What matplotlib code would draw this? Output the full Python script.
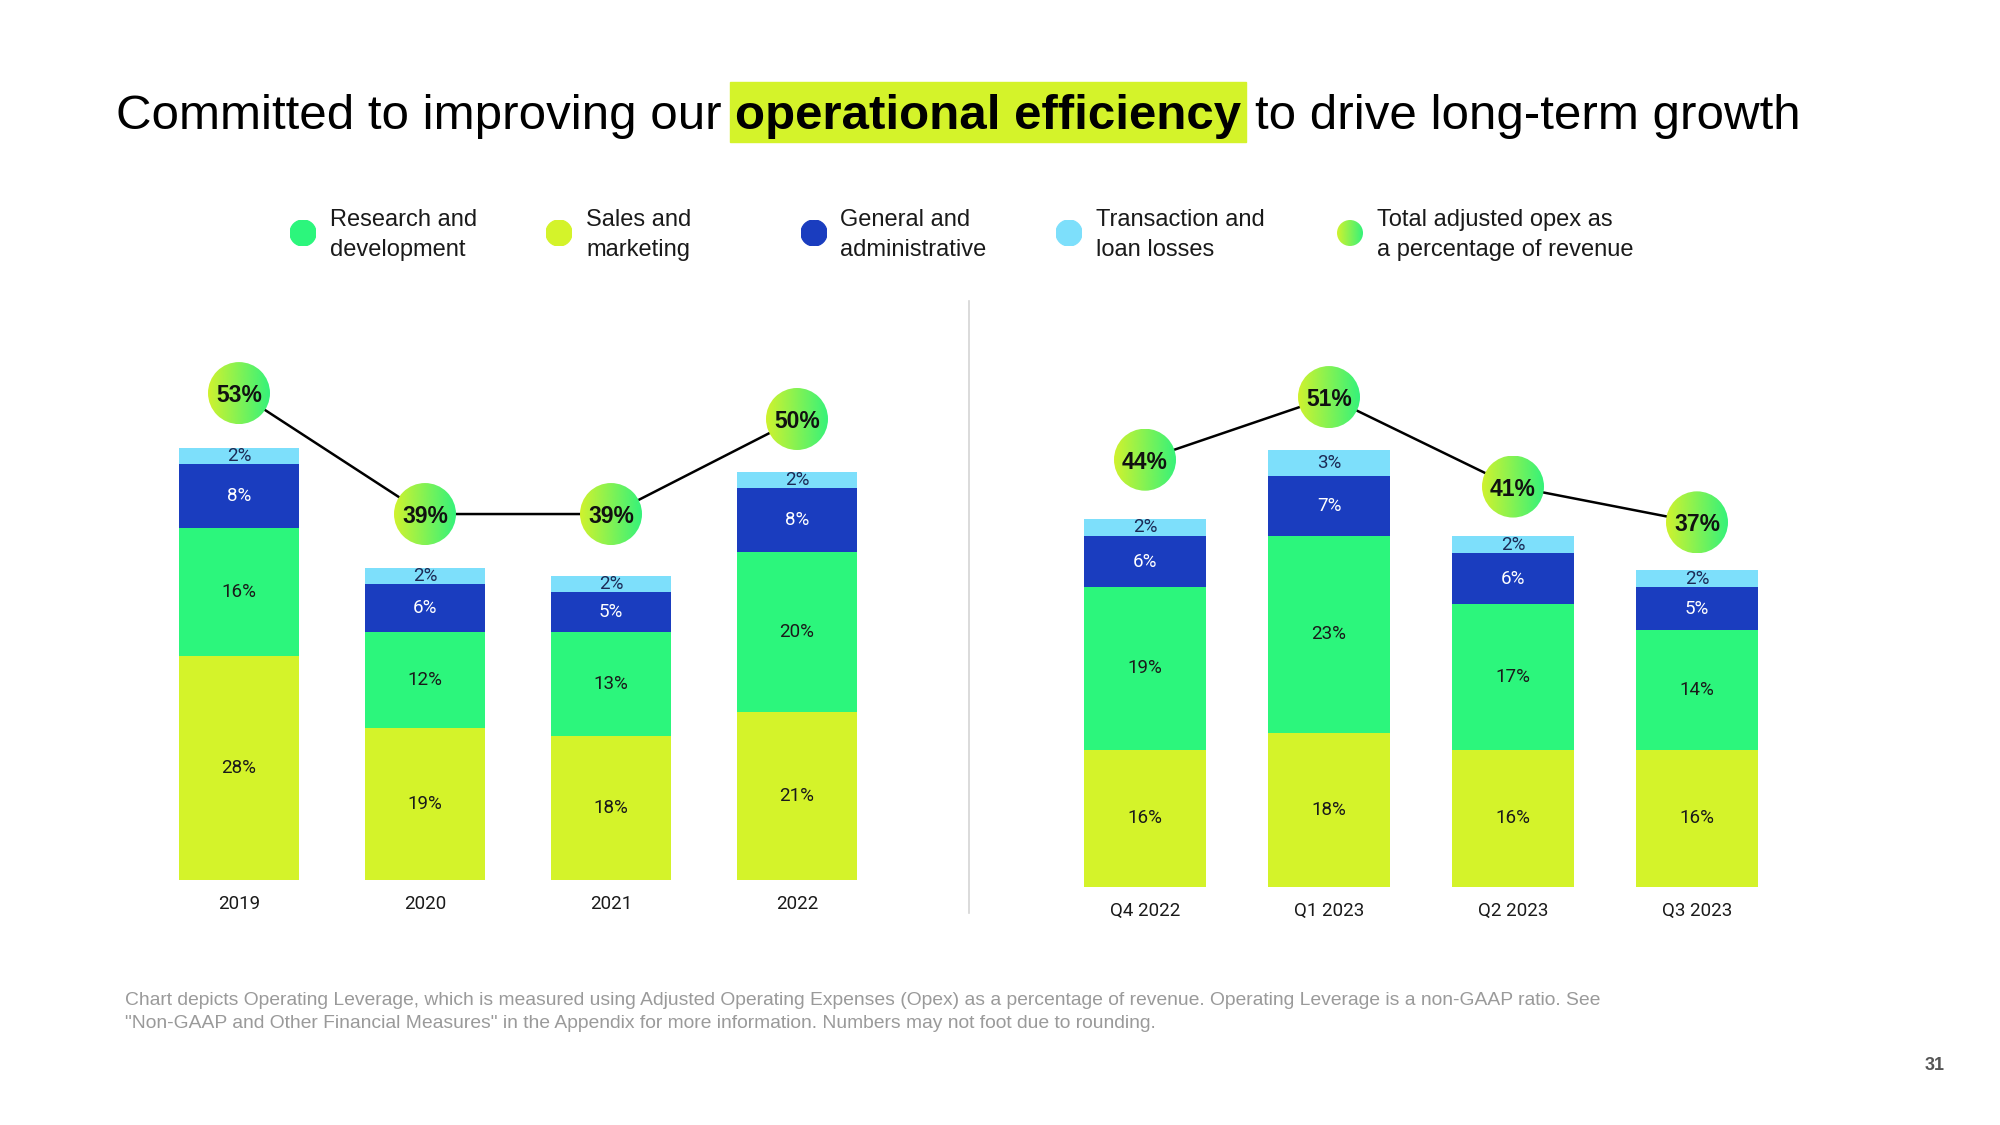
import numpy as np
import matplotlib
matplotlib.use('Agg')
import matplotlib.pyplot as plt
from matplotlib.patches import Circle, Rectangle
from matplotlib.colors import LinearSegmentedColormap

#   figure size in pixels
W, H = 2000, 1125
DPI = 100

#   data: annual
years = ['2019', '2020', '2021', '2022']
yr_sales = [28, 19, 18, 21]
yr_rd = [16, 12, 13, 20]
yr_ga = [8, 6, 5, 8]
yr_tll = [2, 2, 2, 2]
yr_total = [53, 39, 39, 50]

#   data: quarterly
quarters = ['Q4 2022', 'Q1 2023', 'Q2 2023', 'Q3 2023']
q_sales = [16, 18, 16, 16]
q_rd = [19, 23, 17, 14]
q_ga = [6, 7, 6, 5]
q_tll = [2, 3, 2, 2]
q_total = [44, 51, 41, 37]

legend_labels = ['Research and\ndevelopment', 'Sales and\nmarketing',
                 'General and\nadministrative', 'Transaction and\nloan losses',
                 'Total adjusted opex as\na percentage of revenue']

C_SALES = '#d4f32a'
C_RD = '#2cf67c'
C_GA = '#1a3dbf'
C_TLL = '#7ddffb'
grad = LinearSegmentedColormap.from_list('bub', ['#d0f22e', '#35f27a'])

SANS = ['Liberation Sans', 'DejaVu Sans']
ROBO = ['Roboto', 'DejaVu Sans']

fig = plt.figure(figsize=(W / DPI, H / DPI), dpi=DPI)
fig.patch.set_facecolor('white')
rend = fig.canvas.get_renderer()


def bubble(cx, cy, d, label=None, color=None, fs=16.5):
    """circle centred at display pixel (cx, cy), gradient fill unless color given"""
    bax = fig.add_axes([(cx - d / 2) / W, (cy - d / 2) / H, d / W, d / H])
    bax.set_axis_off()
    bax.set_xlim(0, 1)
    bax.set_ylim(0, 1)
    if color is None:
        im = bax.imshow(np.linspace(0, 1, 128)[None, :], cmap=grad,
                        extent=(0, 1, 0, 1), aspect='auto', interpolation='bilinear')
        im.set_clip_path(Circle((0.5, 0.5), 0.5, transform=bax.transAxes))
    else:
        bax.add_patch(Circle((0.5, 0.5), 0.5, color=color, transform=bax.transAxes))
    if label:
        bax.text(0.5, 0.5, label, ha='center', va='center_baseline', fontsize=fs,
                 fontweight='bold', family=SANS, color='#111111', transform=bax.transAxes)


def panel(left, base, spacing, cats, sales, rd, ga, tll, total,
          bar_ppp, bub_off, bub_ppp, width):
    top = 300
    hgt = base - top
    ax = fig.add_axes([left / W, 1 - base / H, 4 * spacing / W, hgt / H])
    x = np.arange(len(cats))
    bottom = np.zeros(len(cats))
    for vals, col, tcol in [(sales, C_SALES, '#1a1a1a'), (rd, C_RD, '#1a1a1a'),
                            (ga, C_GA, 'white'), (tll, C_TLL, '#1c2a55')]:
        ax.bar(x, vals, width, bottom=bottom, color=col, linewidth=0)
        for i, v in enumerate(vals):
            ax.text(x[i], bottom[i] + v / 2, '%d%%' % v, ha='center', va='center',
                    fontsize=13.5, family=ROBO, color=tcol)
        bottom += np.array(vals)
    ax.set_xlim(-0.5, len(cats) - 0.5)
    ax.set_ylim(0, hgt / bar_ppp)
    ax.set_xticks(x)
    ax.set_xticklabels(cats, fontsize=13.5, family=ROBO, color='#1a1a1a')
    ax.tick_params(axis='x', length=0, pad=11)
    ax.set_yticks([])
    for s in ax.spines.values():
        s.set_visible(False)
    ax.patch.set_alpha(0)

    tax = ax.twinx()
    tax.set_ylim(-bub_off / bub_ppp, (hgt - bub_off) / bub_ppp)
    tax.plot(x, total, color='black', lw=1.8, zorder=1)
    tax.set_yticks([])
    for s in tax.spines.values():
        s.set_visible(False)
    tax.patch.set_alpha(0)
    for i, v in enumerate(total):
        cx, cy = tax.transData.transform((x[i], v))
        bubble(cx, cy, 62, '%d%%' % v)
    return ax


#   title, fitted to its width in the reference
parts = [('Committed to improving our', 'normal'), ('operational efficiency', 'bold'),
         ('to drive long-term growth', 'normal')]
size0 = 40
tw = 0
for s, w in parts:
    t = fig.text(0, 0, s, fontsize=size0, fontweight=w, family=SANS)
    tw += t.get_window_extent(rend).width
    t.remove()
gap0 = 0.278 * size0 * DPI / 72
tsize = size0 * 1684 / (tw + 2 * gap0)
gap = 0.278 * tsize * DPI / 72
xpos = 116
ybase = H - 129
for s, w in parts:
    t = fig.text(xpos / W, ybase / H, s, fontsize=tsize, fontweight=w, family=SANS,
                 color='black', va='baseline', zorder=3)
    ext = t.get_window_extent(rend)
    if w == 'bold':
        fig.patches.append(Rectangle(((ext.x0 - 5) / W, (H - 142) / H),
                                     (ext.width + 10) / W, 60 / H, color=C_SALES,
                                     transform=fig.transFigure, zorder=1))
    xpos = ext.x1 + gap

#   legend
leg_cols = [C_RD, C_SALES, C_GA, C_TLL, None]
leg_mx = [303, 559, 814, 1069, 1350]
leg_tx = [330, 586, 840, 1096, 1377]
for lab, col, mx, tx in zip(legend_labels, leg_cols, leg_mx, leg_tx):
    bubble(mx, H - 233, 26, color=col) if col else bubble(mx, H - 233, 26)
    fig.text(tx / W, 1 - 235 / H, lab, fontsize=17, family=SANS, color='#1a1a1a',
             va='center', ha='left', linespacing=1.42)

#   charts
panel(146, 880, 186, years, yr_sales, yr_rd, yr_ga, yr_tll, yr_total,
      8.0, 29, 8.64, 0.65)
panel(1053, 886.5, 184, quarters, q_sales, q_rd, q_ga, q_tll, q_total,
      8.55, 33, 8.95, 0.66)

#   divider
fig.add_artist(plt.Line2D([969 / W, 969 / W], [1 - 301 / H, 1 - 913 / H],
                          color='#d4d4d4', lw=1.2, transform=fig.transFigure))

#   footnote
fig.text(125 / W, 1 - 1012 / H,
         'Chart depicts Operating Leverage, which is measured using Adjusted Operating Expenses (Opex) as a percentage of revenue. '
         'Operating Leverage is a non-GAAP ratio. See\n"Non-GAAP and Other Financial Measures" in the Appendix for more information. '
         'Numbers may not foot due to rounding.',
         fontsize=13.85, family=SANS, color='#9a9a9a', va='center', ha='left', linespacing=1.4)

fig.text(1935 / W, 1 - 1066 / H, '31', fontsize=13, fontweight='bold', family=SANS,
         color='#555555', ha='center', va='center')

fig.savefig('out.png', dpi=DPI)
